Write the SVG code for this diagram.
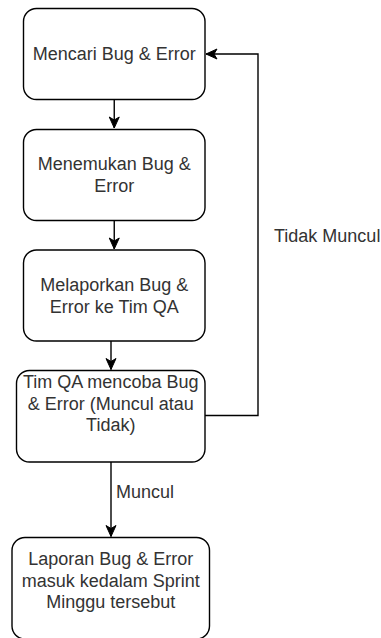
<svg xmlns="http://www.w3.org/2000/svg" width="381" height="638" viewBox="0 0 381 638">
  <style>
    .box { fill: #ffffff; stroke: #000000; stroke-width: 1.4; }
    .lbl { font-family: "Liberation Sans", Arial, sans-serif; font-size: 18px; fill: #333333; text-anchor: middle; }
    .elbl { font-family: "Liberation Sans", Arial, sans-serif; font-size: 18px; fill: #333333; }
    .edge { fill: none; stroke: #000000; stroke-width: 1.4; marker-end: url(#arrow); }
  </style>
  <defs>
    <marker id="arrow" viewBox="-12 -6 13 12" refX="0" refY="0" markerWidth="13" markerHeight="12" markerUnits="userSpaceOnUse" orient="auto">
      <path d="M0,0 L-11,-5 L-8,0 L-11,5 Z" fill="#000000" stroke="#000000" stroke-width="1"/>
    </marker>
  </defs>
  <rect width="381" height="638" fill="#ffffff"/>

  <g id="connectors">
    <path class="edge" d="M114.25,99.5 L114.25,128"/>
    <path class="edge" d="M114.25,220.5 L114.25,249"/>
    <path class="edge" d="M111,341 L111,369.5"/>
    <path class="edge" d="M111,462 L111,536.5"/>
    <path class="edge" d="M205,415.5 L258,415.5 L258,54 L206,54"/>
    <text class="elbl" x="116" y="497.5">Muncul</text>
    <text class="elbl" x="274" y="241.5">Tidak Muncul</text>
  </g>

  <g id="node-mencari">
    <rect class="box" x="23.5" y="8.5" width="181.5" height="91" rx="13" ry="13"/>
    <text class="lbl" x="114.25" y="60">Mencari Bug &amp; Error</text>
  </g>

  <g id="node-menemukan">
    <rect class="box" x="23.5" y="129.5" width="181.5" height="91" rx="13" ry="13"/>
    <text class="lbl" x="114.25" y="170">Menemukan Bug &amp;</text>
    <text class="lbl" x="114.25" y="191.5">Error</text>
  </g>

  <g id="node-melaporkan">
    <rect class="box" x="23.5" y="250" width="181.5" height="91" rx="13" ry="13"/>
    <text class="lbl" x="114.25" y="291">Melaporkan Bug &amp;</text>
    <text class="lbl" x="114.25" y="312.7">Error ke Tim QA</text>
  </g>

  <g id="node-tim-qa">
    <rect class="box" x="16.5" y="370.5" width="188.5" height="91.5" rx="13" ry="13"/>
    <text class="lbl" x="110.75" y="388">Tim QA mencoba Bug</text>
    <text class="lbl" x="110.75" y="409.5">&amp; Error (Muncul atau</text>
    <text class="lbl" x="110.75" y="431">Tidak)</text>
  </g>

  <g id="node-laporan">
    <rect class="box" x="12" y="537.5" width="197.5" height="101.5" rx="13" ry="13"/>
    <text class="lbl" x="110.75" y="565">Laporan Bug &amp; Error</text>
    <text class="lbl" x="110.75" y="586.5">masuk kedalam Sprint</text>
    <text class="lbl" x="110.75" y="608">Minggu tersebut</text>
  </g>
</svg>
